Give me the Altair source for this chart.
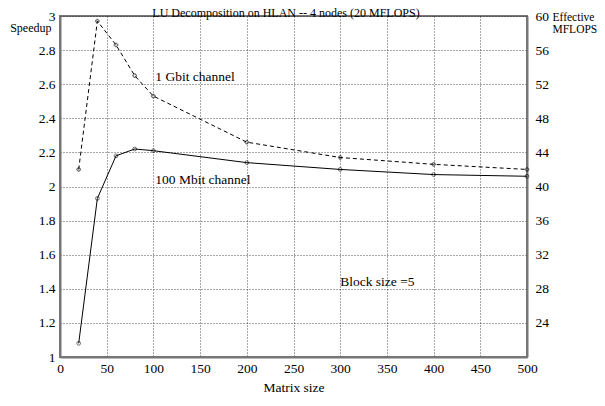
import altair as alt
import pandas as pd

matrix_size = [20, 40, 60, 80, 100, 200, 300, 400, 500]
gbit_speedup = [2.10, 2.97, 2.83, 2.65, 2.53, 2.26, 2.17, 2.13, 2.10]
mbit_speedup = [1.08, 1.93, 2.18, 2.22, 2.21, 2.14, 2.10, 2.07, 2.06]

x_ticks = [0, 50, 100, 150, 200, 250, 300, 350, 400, 450, 500]
y_ticks = [1, 1.2, 1.4, 1.6, 1.8, 2, 2.2, 2.4, 2.6, 2.8, 3]
mflops_ticks = [24, 28, 32, 36, 40, 44, 48, 52, 56, 60]

note_text = ["1 Gbit channel", "100 Mbit channel", "Block size =5"]
note_x = [102, 102, 300]
note_y = [2.64, 2.04, 1.44]

chart_title = ["LU Decomposition on HLAN -- 4 nodes (20 MFLOPS)"]

FONT = "Liberation Serif"
FS = 13.5
common = dict(labelFont=FONT, labelFontSize=FS, labelColor="black",
              titleFont=FONT, titleFontSize=FS, titleFontWeight="normal", titleColor="black",
              labelOverlap=False, labelFlush=False, labelBound=False, ticks=False)

gbit = pd.DataFrame({"size": matrix_size, "speedup": gbit_speedup})
mbit = pd.DataFrame({"size": matrix_size, "speedup": mbit_speedup})
mflops_df = pd.DataFrame({"size": matrix_size, "mflops": [v * 20 for v in mbit_speedup]})
notes = pd.DataFrame({"t": note_text, "x": note_x, "y": note_y})
title_df = pd.DataFrame({"t": chart_title})

xscale = alt.Scale(domain=[0, 500], nice=False, zero=False)
yscale = alt.Scale(domain=[1, 3], nice=False, zero=False)

xaxis = alt.Axis(values=x_ticks, tickCount=11, title="Matrix size", grid=True,
                 labelPadding=4, titlePadding=6, format="d", **common)
yaxis = alt.Axis(values=y_ticks, tickCount=11, title="Speedup", grid=True, format="~g",
                 labelPadding=5, titleAngle=0, titleAlign="right",
                 titleBaseline="middle", titleX=-9, titleY=11,
                 **{**common, "titleFontSize": 12})


def X(field="size"):
    return alt.X(f"{field}:Q", scale=xscale, axis=xaxis)


def Y(field="speedup"):
    return alt.Y(f"{field}:Q", scale=yscale, axis=yaxis)


gbit_line = alt.Chart(gbit).mark_line(color="black", strokeWidth=1, strokeDash=[4, 3]).encode(x=X(), y=Y())
gbit_pts = alt.Chart(gbit).mark_point(shape="cross", color="black", size=14, strokeWidth=0.8, filled=False).encode(
    x=X(), y=Y())
mbit_line = alt.Chart(mbit).mark_line(color="black", strokeWidth=1).encode(x=X(), y=Y())
mbit_pts = alt.Chart(mbit).mark_point(shape="circle", color="black", size=14, strokeWidth=0.8, filled=False).encode(
    x=X(), y=Y())
note_marks = alt.Chart(notes).mark_text(align="left", baseline="middle", font=FONT, fontSize=FS, color="black").encode(
    x=X("x"), y=Y("y"), text="t:N")
title_mark = alt.Chart(title_df).mark_text(align="center", baseline="alphabetic", font=FONT, fontSize=12,
                                           color="black").encode(
    x=alt.value(226), y=alt.value(0.5), text="t:N")

left = alt.layer(gbit_line, gbit_pts, mbit_line, mbit_pts, note_marks, title_mark)

right = alt.Chart(mflops_df).mark_point(opacity=0).encode(
    x=X(),
    y=alt.Y("mflops:Q", scale=alt.Scale(domain=[20, 60], nice=False, zero=False),
            axis=alt.Axis(orient="right", values=mflops_ticks, tickCount=10, grid=False,
                          labelPadding=8, title=["Effective", "MFLOPS"], titleAngle=0,
                          titleAlign="left", titleBaseline="top", titleX=25, titleY=-5,
                          titleLineHeight=12, **{**common, "titleFontSize": 11.5})))

chart = alt.layer(left, right).resolve_scale(y="independent").properties(
    width=467, height=341,
    padding={"left": 52, "top": 8, "right": 70, "bottom": 41},
    autosize=alt.AutoSizeParams(type="none"),
).configure_axis(
    domainColor="#777", domainWidth=2,
    gridColor="#222", gridDash=[1, 2], gridWidth=0.8,
).configure_view(stroke="#777", strokeWidth=2)

chart.save("out.html", embed_options={"renderer": "svg", "actions": False})
